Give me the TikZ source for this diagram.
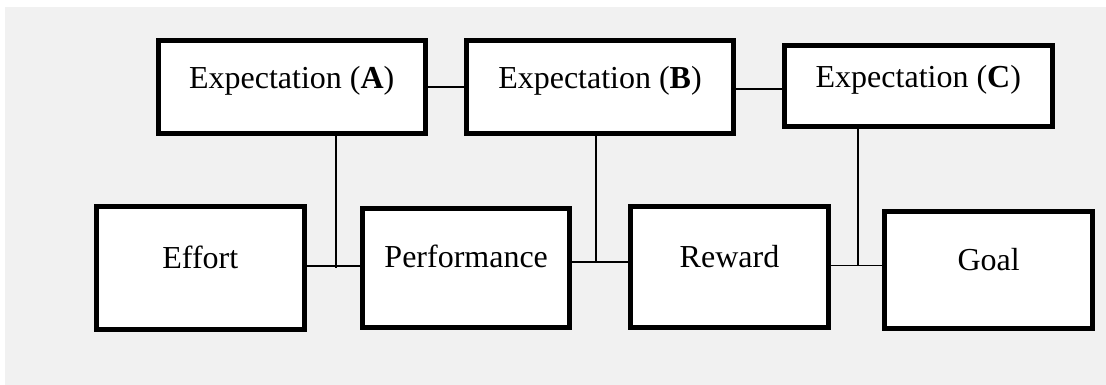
\documentclass[tikz,border=0pt]{standalone}
\usepackage{fontspec}
\setmainfont{Liberation Serif}
\begin{document}
\begin{tikzpicture}[x=1pt,y=-1pt,
  stagebox/.style={draw=black, line width=5pt, fill=white, inner sep=0pt,
    outer sep=0pt, anchor=base, font=\fontsize{32}{37}\selectfont},
  link/.style={draw=black, line width=1.8pt}]
  % canvas and panel
  \useasboundingbox (0,0) rectangle (1106,385);
  \fill[white] (0,0) rectangle (1106,385);
  \fill[black!5.5] (5,7) rectangle (1106,385);

  % expectation boxes (top row)
  \node[stagebox, minimum width=267pt, text height=48.1pt, text depth=45.2pt]
    (expA) at (291.7,88.3) {Expectation (\textbf{A})};
  \node[stagebox, minimum width=267pt, text height=48.1pt, text depth=45.2pt]
    (expB) at (600,88.3) {Expectation (\textbf{B})};
  \node[stagebox, minimum width=268.3pt, text height=42.3pt, text depth=39.3pt]
    (expC) at (918.3,87.5) {Expectation (\textbf{C})};

  % chain of stages (bottom row)
  \node[stagebox, minimum width=207.7pt, text height=61.5pt, text depth=61.2pt]
    (effort) at (200.3,268) {Effort};
  \node[stagebox, minimum width=207.3pt, text height=59pt, text depth=60pt]
    (perf) at (466.2,267.5) {Performance};
  \node[stagebox, minimum width=197.4pt, text height=60.8pt, text depth=60.2pt]
    (reward) at (729.5,267.3) {Reward};
  \node[stagebox, minimum width=207.7pt, text height=58.2pt, text depth=58.2pt]
    (goal) at (988.7,270) {Goal};

  % links between the expectation boxes
  \draw[link] (expA.east) -- (expB.west);
  \draw[link] ([yshift=-2.5pt]expB.east) -- ([yshift=-2.5pt]expB.east -| expC.west);

  % junctions on the lower links
  \coordinate (jA) at ([yshift=2.2pt]effort.east -| 336,0);
  \coordinate (jB) at ([yshift=6pt]perf.east -| 596,0);
  \coordinate (jC) at ([yshift=1.6pt]reward.east -| 858.3,0);

  % links between the stages
  \draw[link] (effort.east |- jA) -- (perf.west |- jA);
  \draw[link] (perf.east |- jB) -- (reward.west |- jB);
  \draw[link] (reward.east |- jC) -- (goal.west |- jC);

  % expectation drop lines
  \draw[link] (expA.south -| jA) -- ([yshift=-2pt]jA);
  \draw[link] (expB.south -| jB) -- (jB);
  \draw[link] (expC.south -| jC) -- (jC);
\end{tikzpicture}
\end{document}
